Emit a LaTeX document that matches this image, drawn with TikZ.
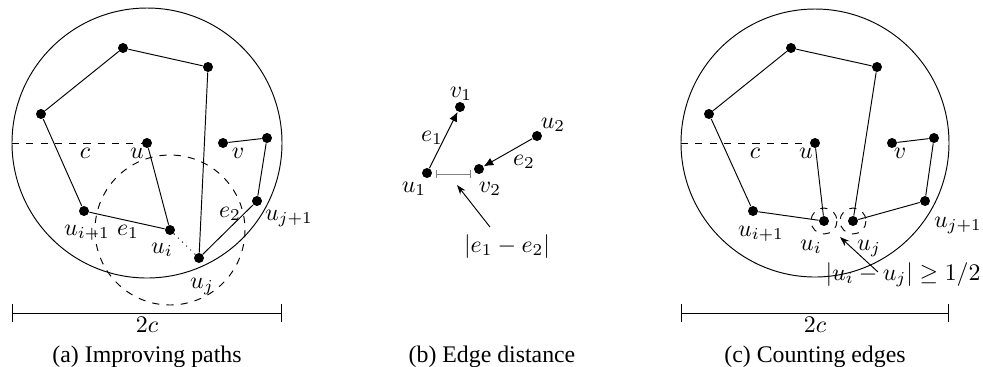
\documentclass[tikz,border=0pt]{standalone}
\usepackage{fontspec}
\newfontfamily\capfont{Liberation Serif}
\usetikzlibrary{arrows.meta}

\begin{document}
\begin{tikzpicture}[x=0.42pt, y=-0.42pt,
      dot/.style={circle, fill, inner sep=0pt, minimum size=4.2pt},
      lbl/.style={inner sep=0pt, anchor=base},
      subcap/.style={font=\capfont, inner sep=0pt, anchor=base},
      edgearr/.style={-{Latex[length=4pt, width=3.5pt]}},
      pointer/.style={-{Stealth[length=4pt, width=2.8pt]}, thin},
      scalebar/.style={{Bar[width=7.5pt]}-{Bar[width=7.5pt]}}]
    \useasboundingbox (0,0) rectangle (983,366);

    % (a) improving paths
    \coordinate (ao) at (147,143);
    \coordinate (aw) at (12,143);
    \draw (ao) circle[radius=135];
    \node[dot] (ap1) at (123,48) {};
    \node[dot] (ap2) at (208,67) {};
    \node[dot] (ap3) at (41,114) {};
    \node[dot] (au) at (147,143) {};
    \node[dot] (av) at (223,143) {};
    \node[dot] (ap4) at (267,138) {};
    \node[dot] (aujj) at (257,201) {};
    \node[dot] (auii) at (84,211) {};
    \node[dot] (aui) at (170,230) {};
    \node[dot] (auj) at (199,258) {};
    \draw[dashed] (aw) -- (au);
    \draw (ap3) -- (ap1) -- (ap2) -- (auj) -- (aujj) -- (ap4) -- (av);
    \draw (ap3) -- (auii) -- (aui) -- (au);
    \draw[dotted] (aui) -- (auj);
    \draw[dashed] (aui) circle[radius=75];
    \node[lbl] (ac) at (85,158) {$c$};
    \node[lbl] (aul) at (137,158) {$u$};
    \node[lbl] (avl) at (238,158) {$v$};
    \node[lbl] (ae2) at (230,217) {$e_2$};
    \node[lbl] (aujjl) at (289,220) {$u_{j+1}$};
    \node[lbl] (auiil) at (87,235) {$u_{i+1}$};
    \node[lbl] (ae1) at (128,235) {$e_1$};
    \node[lbl] (auil) at (162,253) {$u_i$};
    \node[lbl] (aujl) at (202,288) {$u_j$};
    \coordinate (al) at (12,313);
    \coordinate (ar) at (282,313);
    \draw[scalebar] (al) -- (ar);
    \node[lbl] (a2c) at (147,332) {$2c$};
    \node[subcap] (acap) at (147,362) {(a) Improving paths};

    % (b) edge distance
    \node[dot] (bu1) at (427,173) {};
    \node[dot] (bv1) at (460,107) {};
    \node[dot] (bu2) at (537,136) {};
    \node[dot] (bv2) at (479,169) {};
    \draw[edgearr] (bu1) -- (bv1);
    \draw[edgearr] (bu2) -- (bv2);
    \node[lbl] (bv1l) at (461,97) {$v_1$};
    \node[lbl] (be1) at (432,141) {$e_1$};
    \node[lbl] (bu2l) at (553,128) {$u_2$};
    \node[lbl] (be2) at (524,165) {$e_2$};
    \node[lbl] (bu1l) at (414,192) {$u_1$};
    \node[lbl] (bv2l) at (490,192) {$v_2$};
    \coordinate (bl) at (436,174);
    \coordinate (br) at (471,174);
    \draw[gray, {Bar[width=3.4pt]}-{Bar[width=3.4pt]}] (bl) -- (br);
    \node[lbl] (bdist) at (507,252) {$|e_1-e_2|$};
    \coordinate (bfrom) at (490,227);
    \coordinate (bto) at (457,185);
    \draw[pointer] (bfrom) -- (bto);
    \node[subcap] (bcap) at (492,362) {(b) Edge distance};

    % (c) counting edges
    \coordinate (co) at (815,143);
    \coordinate (cw) at (681,143);
    \draw (co) circle[radius=134];
    \node[dot] (cp1) at (791,48) {};
    \node[dot] (cp2) at (877,67) {};
    \node[dot] (cp3) at (709,114) {};
    \node[dot] (cu) at (815,143) {};
    \node[dot] (cv) at (892,143) {};
    \node[dot] (cp4) at (934,138) {};
    \node[dot] (cujj) at (925,201) {};
    \node[dot] (cuii) at (753,211) {};
    \node[dot] (cui) at (824,221) {};
    \node[dot] (cuj) at (853,221) {};
    \draw[dashed] (cw) -- (cu);
    \draw (cp3) -- (cp1) -- (cp2) -- (cuj) -- (cujj) -- (cp4) -- (cv);
    \draw (cp3) -- (cuii) -- (cui) -- (cu);
    \draw[dashed] (cui) circle[radius=13];
    \draw[dashed] (cuj) circle[radius=13];
    \node[lbl] (cc) at (755,158) {$c$};
    \node[lbl] (cul) at (806,158) {$u$};
    \node[lbl] (cvl) at (900,158) {$v$};
    \node[lbl] (cujjl) at (958,227) {$u_{j+1}$};
    \node[lbl] (cuiil) at (761,236) {$u_{i+1}$};
    \node[lbl] (cuil) at (811,250) {$u_i$};
    \node[lbl] (cujl) at (869,250) {$u_j$};
    \node[lbl, anchor=base east] (cdist) at (981,280) {$|u_i-u_j|\geq 1/2$};
    \coordinate (cfrom) at (878,272);
    \coordinate (cto) at (840,237);
    \draw[pointer] (cfrom) -- (cto);
    \coordinate (cl) at (681,313);
    \coordinate (cr) at (949,313);
    \draw[scalebar] (cl) -- (cr);
    \node[lbl] (c2c) at (815,332) {$2c$};
    \node[subcap] (ccap) at (815,362) {(c) Counting edges};
  \end{tikzpicture}
\end{document}
